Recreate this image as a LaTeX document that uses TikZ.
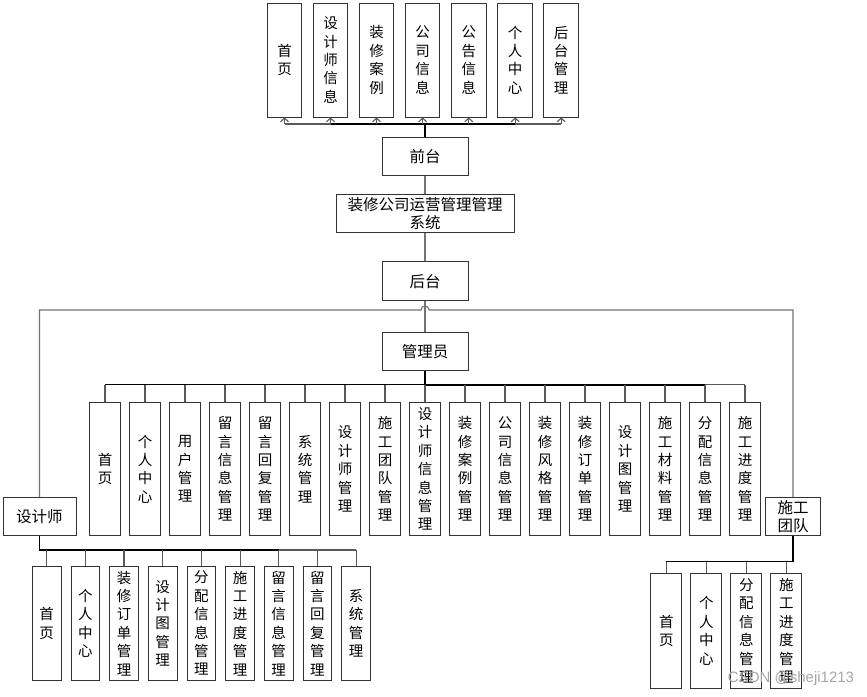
\documentclass[tikz,border=0pt]{standalone}
\usepackage{fontspec}
\setmainfont{Liberation Sans}
\newfontfamily\cjk{Noto Sans CJK SC}
\usetikzlibrary{arrows.meta,calc}
\tikzset{
  box/.style={draw=black!80, line width=1pt, fill=white, inner sep=0pt, align=center},
  vtext/.style={box, font=\cjk\fontsize{14.5}{18.4}\selectfont},
  htext/.style={box, font=\cjk\fontsize{15.5}{18.5}\selectfont},
  tbox/.style={vtext, minimum width=34.5pt, minimum height=114pt},
  abox/.style={vtext, minimum width=30.7pt, minimum height=133.4pt},
  dbox/.style={vtext, minimum width=28.7pt, minimum height=114pt},
  mbox/.style={vtext, minimum width=30.7pt, minimum height=115pt},
  hbox/.style={htext, minimum width=86pt, minimum height=38.5pt},
  conn/.style={draw=black!55, line width=1.1pt},
  bus/.style={draw=black, line width=1.6pt},
  tee/.style={draw=black!65, line width=1.1pt},
  uparrow/.style={tee, -{Straight Barb[length=3.5pt,width=8pt]}}
}
\begin{document}
\begin{tikzpicture}[x=1pt,y=-1pt]
\useasboundingbox (0,0) rectangle (867,696);
% top row
\node[tbox] (t1) at (284.5,60) {首\\页};
\node[tbox] (t2) at (330.5,60) {设\\计\\师\\信\\息};
\node[tbox] (t3) at (376.5,60) {装\\修\\案\\例};
\node[tbox] (t4) at (422.7,60) {公\\司\\信\\息};
\node[tbox] (t5) at (468.8,60) {公\\告\\信\\息};
\node[tbox] (t6) at (515.2,60) {个\\人\\中\\心};
\node[tbox] (t7) at (561.2,60) {后\\台\\管\\理};
% centre column
\node[hbox] (front) at (425,156.5) {前台};
\node[htext, minimum width=178pt, minimum height=37.6pt] (sys) at (425,213.5) {装修公司运营管理管理\\系统};
\node[hbox] (back) at (425,281.2) {后台};
\node[hbox] (admin) at (425,351.5) {管理员};
\node[htext, minimum width=73pt, minimum height=38.5pt] (des) at (39.5,516.5) {设计师};
\node[htext, minimum width=55pt, minimum height=38.5pt, font=\cjk\fontsize{15.5}{17.7}\selectfont] (team) at (793,516.5) {施工\\团队};
% admin row
\foreach \t [count=\i] in {{首\\页},{个\\人\\中\\心},{用\\户\\管\\理},{留\\言\\信\\息\\管\\理},{留\\言\\回\\复\\管\\理},{系\\统\\管\\理},{设\\计\\师\\管\\理},{施\\工\\团\\队\\管\\理},{设\\计\\师\\信\\息\\管\\理},{装\\修\\案\\例\\管\\理},{公\\司\\信\\息\\管\\理},{装\\修\\风\\格\\管\\理},{装\\修\\订\\单\\管\\理},{设\\计\\图\\管\\理},{施\\工\\材\\料\\管\\理},{分\\配\\信\\息\\管\\理},{施\\工\\进\\度\\管\\理}}
  \node[abox] (a\i) at ({105+40*(\i-1)},469) {\t};
% designer row
\foreach \t [count=\i] in {{首\\页},{个\\人\\中\\心},{装\\修\\订\\单\\管\\理},{设\\计\\图\\管\\理},{分\\配\\信\\息\\管\\理},{施\\工\\进\\度\\管\\理},{留\\言\\信\\息\\管\\理},{留\\言\\回\\复\\管\\理},{系\\统\\管\\理}}
  \node[dbox] (d\i) at ({46.7+38.67*(\i-1)},623.3) {\t};
% team row
\foreach \t [count=\i] in {{首\\页},{个\\人\\中\\心},{分\\配\\信\\息\\管\\理},{施\\工\\进\\度\\管\\理}}
  \node[mbox] (m\i) at ({666.3+40*(\i-1)},630.8) {\t};
% top connectors
\coordinate (tb) at (425,124);
\draw[tee] (t1.south |- tb) -- (t7.south |- tb);
\draw[bus] (t2.south |- tb) -- (t6.south |- tb);
\foreach \i in {1,...,7} \draw[uparrow] (t\i.south |- tb) -- (t\i.south);
\draw[bus, line width=2.2pt] (front.north) -- (front.north |- tb);
% centre column connectors
\draw[conn] (front.south) -- (sys.north);
\draw[conn] (sys.south) -- (back.north);
\draw[conn] (back.south) -- (admin.north);
\coordinate (hl) at (39.5,310);
\draw[conn] (des.north) -- (des.north |- hl) -- ($(back.south |- hl)+(-4,0)$) arc[start angle=180,end angle=360,radius=4] -- (team.north |- hl) -- (team.north);
% admin connectors
\coordinate (ab) at (425,384.7);
\draw[tee] (a1.north |- ab) -- (a17.north |- ab);
\draw[bus] (a9.north |- ab) -- (a16.north |- ab);
\draw[draw=black, line width=1.2pt] (a1.north |- ab) -- (a9.north |- ab);
\draw[bus, line width=2.2pt] (admin.south) -- (admin.south |- ab);
\foreach \i in {1,...,17} \draw[tee] (a\i.north |- ab) -- (a\i.north);
% designer connectors
\coordinate (db) at (39.5,550);
\draw[tee] (d7.north |- db) -- (d9.north |- db);
\draw[bus] (des.south) -- (des.south |- db) -- (d7.north |- db);
\foreach \i in {1,...,9} \draw[tee] (d\i.north |- db) -- (d\i.north);
% team connectors
\coordinate (mb) at (793,561.7);
\draw[draw=black, line width=1.2pt] (team.south) -- (team.south |- mb) -- (m1.north |- mb);
\foreach \i in {1,...,4} \draw[tee] (m\i.north |- mb) -- (m\i.north);
% watermark
\node[font=\fontsize{15}{15}\selectfont, text=black!35, inner sep=0pt] (wm) at (791,678.5) {CSDN @sheji1213};
\end{tikzpicture}
\end{document}
